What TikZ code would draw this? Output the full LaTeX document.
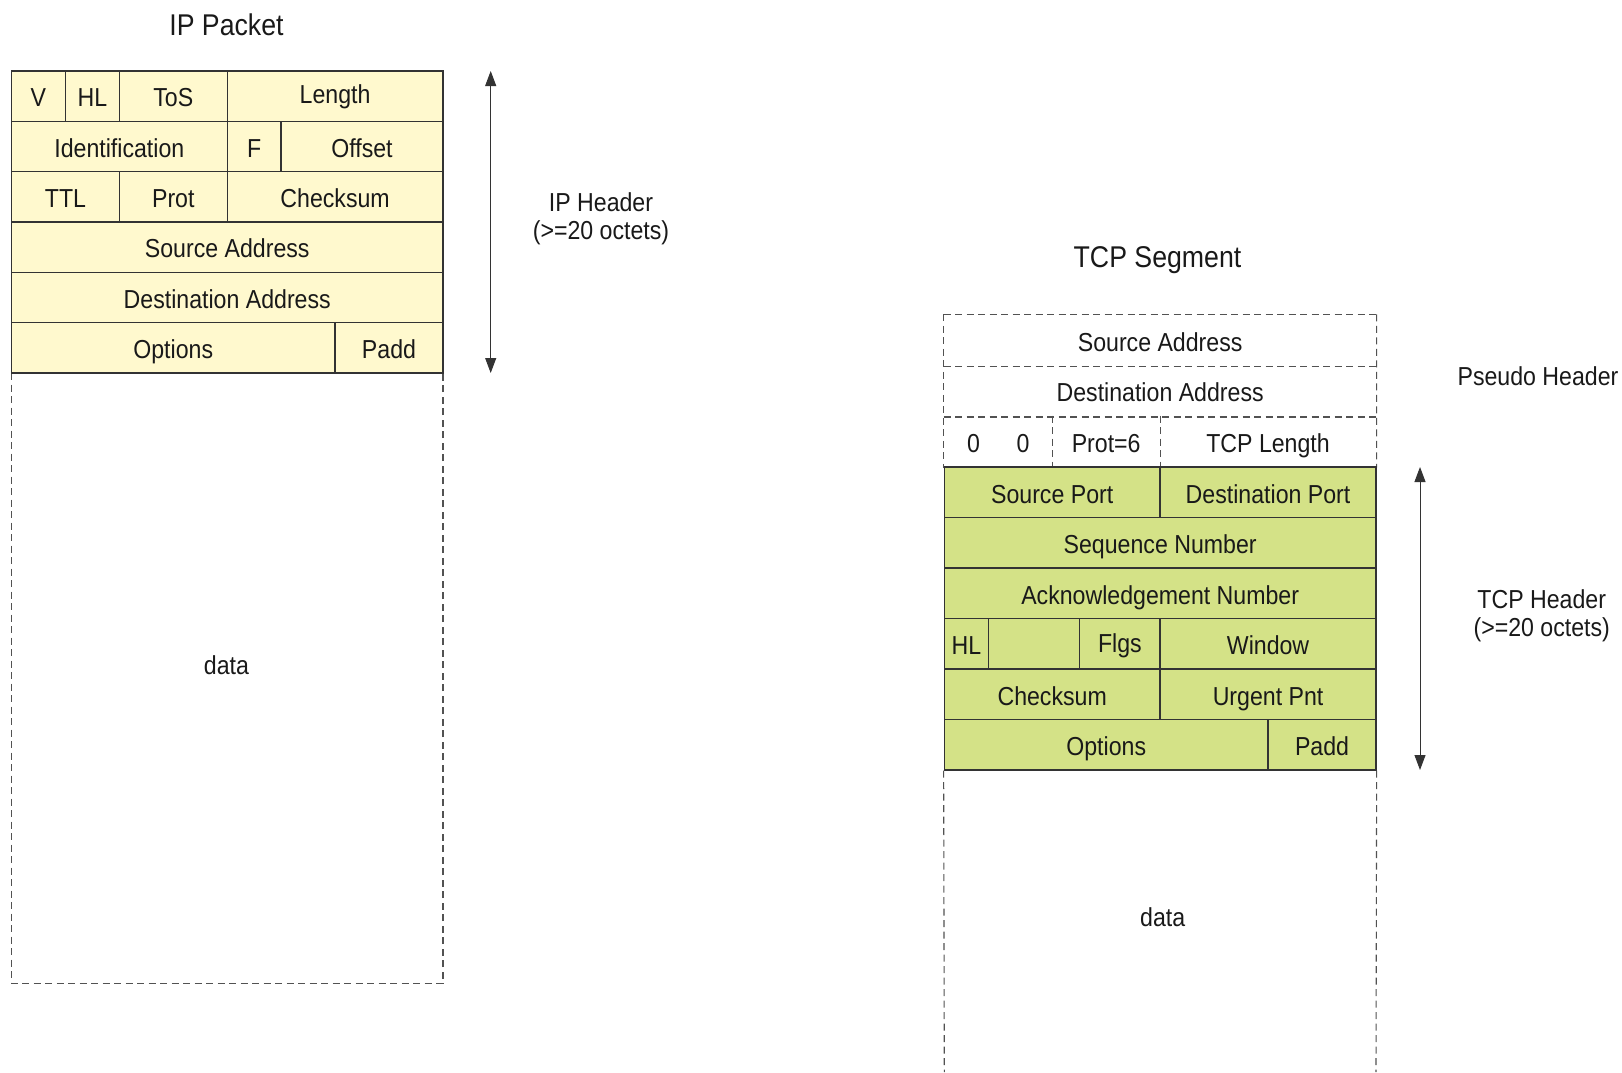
\documentclass[tikz,border=0pt]{standalone}
\usepackage{fontspec}
\setmainfont[FakeStretch=0.89]{Liberation Sans}
\usetikzlibrary{arrows.meta}
\definecolor{ipfill}{RGB}{255,249,206}
\definecolor{tcpfill}{RGB}{212,226,135}
\definecolor{linec}{RGB}{51,51,51}
\definecolor{txtc}{RGB}{25,25,25}
\begin{document}
\begin{tikzpicture}[x=1pt,y=-1pt,
  fld/.style={draw=linec, line width=1.3pt, inner sep=0pt, text height=21.6pt, text depth=0pt,
              font=\fontsize{26}{28}\selectfont, text=txtc},
  cw/.style={minimum width=#1pt},
  ipf/.style={fld, fill=ipfill, minimum height=50.33pt},
  tcpf/.style={fld, fill=tcpfill, minimum height=50.5pt},
  psf/.style={fld, draw=none, minimum height=50.67pt},
  dsh/.style={draw=linec!85, line width=1.1pt, dash pattern=on 7pt off 4.5pt},
  lbl/.style={inner sep=0pt, font=\fontsize{26}{28}\selectfont, align=center, text=txtc},
  ttl/.style={inner sep=0pt, text height=21.5pt, text depth=0pt, font=\fontsize{30}{32}\selectfont, text=txtc},
  arr/.style={draw=linec, line width=1pt, {Triangle[length=15pt,width=11pt]}-{Triangle[length=15pt,width=11pt]}}]
\useasboundingbox (0,0) rectangle (1622,1072);

% ---------- IP packet ----------
\node[ttl] (ipTitle) at (226.5,24.5) {IP Packet};
\coordinate (ipdTL) at (11.5,373);
\coordinate (ipdBR) at (443,983.3);
\draw[dsh] (ipdTL) rectangle (ipdBR);
\node[fld, draw=none] (ipData) at (226.5,664) {data};

\node[ipf, cw=53.9]  (ipV)    at (38.45,96.15) {V};
\node[ipf, cw=54]    (ipHL)   at (92.4,96.15) {HL};
\node[ipf, cw=107.8] (ipToS)  at (173.3,96.15) {ToS};
\node[ipf, cw=215.8, text height=14.8pt] (ipLen) at (335.1,96.15) {Length};

\node[ipf, cw=215.7] (ipId)   at (119.35,146.5) {Identification};
\node[ipf, cw=53.8]  (ipF)    at (254.1,146.5) {F};
\node[ipf, cw=162]   (ipOff)  at (362,146.5) {Offset};

\node[ipf, cw=107.9] (ipTTL)  at (65.45,196.83) {TTL};
\node[ipf, cw=107.8] (ipProt) at (173.3,196.83) {Prot};
\node[ipf, cw=215.8] (ipChk)  at (335.1,196.83) {Checksum};

\node[ipf, cw=431.5] (ipSrc)  at (227.25,247.17) {Source Address};
\node[ipf, cw=431.5] (ipDst)  at (227.25,297.5) {Destination Address};

\node[ipf, cw=323.5] (ipOpt)  at (173.25,347.83) {Options};
\node[ipf, cw=108]   (ipPad)  at (389,347.83) {Padd};

\coordinate (ipArrT) at (490.7,71);
\coordinate (ipArrB) at (490.7,373);
\draw[arr] (ipArrT) -- (ipArrB);
\node[lbl] (ipHdr) at (601,219.2) {IP Header\\(>=20 octets)};

% ---------- TCP segment ----------
\node[ttl] (tcpTitle) at (1157.5,257) {TCP Segment};
\node[lbl, text height=18.6pt, text depth=0pt] (psLbl) at (1538,376.2) {Pseudo Header};

\node[psf, cw=431.7] (psSrc)  at (1160.15,340.33) {Source Address};
\node[psf, cw=431.7] (psDst)  at (1160.15,391) {Destination Address};
\node[psf, cw=107.9] (psZero) at (998.25,441.67) {0\hspace{36.5pt}0};
\node[psf, cw=107.9] (psProt) at (1106.15,441.67) {Prot=6};
\node[psf, cw=215.9] (psLen)  at (1268.05,441.67) {TCP Length};

\draw[dsh] (psSrc.north west) -- (psSrc.north east);
\draw[dsh] (psSrc.south west) -- (psSrc.south east);
\draw[dsh] (psDst.south west) -- (psDst.south east);
\draw[dsh] (psSrc.north west) -- (psZero.south west);
\draw[dsh] (psSrc.north east) -- (psLen.south east);
\draw[dsh] (psZero.north east) -- (psZero.south east);
\draw[dsh] (psProt.north east) -- (psProt.south east);

\node[tcpf, cw=215.8] (tSrcP) at (1052.2,492.25) {Source Port};
\node[tcpf, cw=215.9] (tDstP) at (1268.05,492.25) {Destination Port};
\node[tcpf, cw=431.7] (tSeq)  at (1160.15,542.75) {Sequence Number};
\node[tcpf, cw=431.7] (tAck)  at (1160.15,593.25) {Acknowledgement Number};
\node[tcpf, cw=44.4]  (tHL)   at (966.5,643.75) {HL};
\node[tcpf, cw=91]    (tRes)  at (1034.2,643.75) {};
\node[tcpf, cw=80.4, text height=16.6pt]  (tFlg)  at (1119.9,643.75) {Flgs};
\node[tcpf, cw=215.9] (tWin)  at (1268.05,643.75) {Window};
\node[tcpf, cw=215.8] (tChk)  at (1052.2,694.25) {Checksum};
\node[tcpf, cw=215.9] (tUrg)  at (1268.05,694.25) {Urgent Pnt};
\node[tcpf, cw=323.8] (tOpt)  at (1106.2,744.75) {Options};
\node[tcpf, cw=107.9] (tPad)  at (1322.05,744.75) {Padd};

\coordinate (tdL) at (944.3,1072);
\coordinate (tdR) at (1376,1072);
\draw[dsh] (tOpt.south west) -- (tdL);
\draw[dsh] (tPad.south east) -- (tdR);
\node[fld, draw=none] (tData) at (1162.7,915.5) {data};

\coordinate (tArrT) at (1420,467);
\coordinate (tArrB) at (1420,770);
\draw[arr] (tArrT) -- (tArrB);
\node[lbl] (tHdr) at (1541.7,615.7) {TCP Header\\(>=20 octets)};
\end{tikzpicture}
\end{document}
